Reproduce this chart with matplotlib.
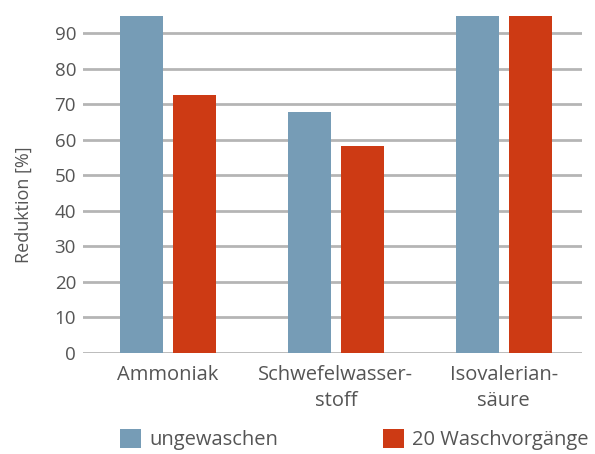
import matplotlib
matplotlib.use("Agg")
import matplotlib.pyplot as plt
import numpy as np

categories = ["Ammoniak", "Schwefelwasser-\nstoff", "Isovalerian-\nsäure"]
series_names = ["ungewaschen", "20 Waschvorgänge"]
ungewaschen = [95, 67.9, 95]
gewaschen20 = [72.6, 58.2, 95]
yticks = [0, 10, 20, 30, 40, 50, 60, 70, 80, 90]

blue = "#769cb6"
red = "#cd3a14"
grid = "#b5b5b5"
txt = "#555555"

plt.rcParams['font.family'] = ['Open Sans', 'DejaVu Sans']

W, H = 595, 454
fig = plt.figure(figsize=(W/100, H/100), dpi=100)
ax = fig.add_axes([83/W, (H-352.7)/H, (582-83)/W, 337.2/H])

x = np.arange(len(categories))
bw = 0.256
off = 0.158
ax.bar(x - off, ungewaschen, bw, color=blue, zorder=3, label=series_names[0])
ax.bar(x + off, gewaschen20, bw, color=red, zorder=3, label=series_names[1])

ax.set_xlim(-0.506, 2.467)
ax.set_ylim(0, 95)
ax.set_yticks(yticks)
ax.set_yticklabels([str(v) for v in yticks], fontsize=13.5)
for v in yticks:
    ax.axhline(v, color=grid, lw=2.0, zorder=1)
ax.set_xticks(x)
ax.set_xticklabels(categories, linespacing=1.4, fontsize=14.5)
ax.tick_params(axis='both', length=0, colors=txt)
ax.tick_params(axis='y', pad=5)
ax.tick_params(axis='x', pad=9)
for s in ax.spines.values():
    s.set_visible(False)
ax.set_ylabel("Reduktion [%]", color=txt, fontsize=13)
ax.yaxis.set_label_coords(-0.10, 0.44)

handles, labels = ax.get_legend_handles_labels()
leg = fig.legend(handles, labels, loc='upper left', bbox_to_anchor=(120/W, 1 - 429/H),
                 ncol=2, frameon=False, fontsize=14.5, handlelength=1.05, handleheight=1.05,
                 handletextpad=0.4, columnspacing=5.2, borderpad=0, borderaxespad=0)
for t in leg.get_texts():
    t.set_color(txt)

fig.savefig("out.png", dpi=100)
